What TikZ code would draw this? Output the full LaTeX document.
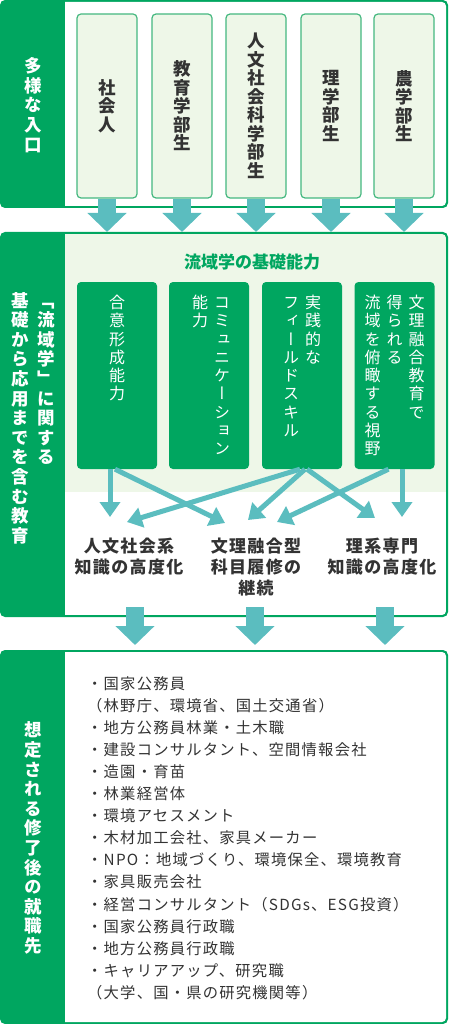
\documentclass[tikz,border=0pt]{standalone}
\usepackage{fontspec}
\setmainfont{Noto Sans CJK JP}
\newfontfamily\vjp{Noto Sans CJK JP}[RawFeature=+vert]
\newfontfamily\listjp{Noto Sans CJK JP}[LetterSpace=8]
\newfontfamily\outjp{Noto Sans CJK JP}[LetterSpace=8]
\usetikzlibrary{arrows.meta}

\definecolor{palG}{HTML}{00A660}
\definecolor{palT}{HTML}{5BBDBF}
\definecolor{palL}{HTML}{EEF7E8}
\definecolor{palB}{HTML}{45B880}
\definecolor{palK}{HTML}{333333}

% vertical stack of characters
\newcommand\vstk[1]{\vtop{\lineskiplimit=-\maxdimen\vstkaux#1\relax}}
\def\vstkaux#1{\ifx\relax#1\else\hbox to 1em{\hss#1\hss}\expandafter\vstkaux\fi}

\begin{document}
\begin{tikzpicture}[
    x=1pt, y=-1pt,
    bigarr/.style={draw=palT, line width=18pt, -{Triangle[width=38pt, length=19pt]}},
    abarr/.style={draw=palT, line width=5pt, -{Triangle[width=20pt, length=15pt]}},
    entbox/.style={draw=palB, line width=1.2pt, fill=palL, rounded corners=4pt,
        minimum width=60pt, minimum height=184pt, inner sep=0pt, text=palK,
        font=\vjp\bfseries\fontsize{17.5}{18.5}\selectfont},
    abbox/.style={fill=palG, rounded corners=4pt,
        minimum width=80pt, minimum height=187pt, inner sep=0pt},
    abtxt/.style={text=white, inner sep=0pt, anchor=north,
        font=\vjp\fontsize{16}{18.3}\selectfont},
    bandlbl/.style={text=white, inner sep=0pt,
        font=\vjp\bfseries\fontsize{17.5}{19.6}\selectfont},
    outlbl/.style={text=palK, inner sep=0pt, anchor=north, align=center,
        font=\outjp\bfseries\fontsize{17}{21}\selectfont},
]
\useasboundingbox (0,0) rectangle (448,1024);

% --- Panels ---
\fill[palG, rounded corners=5pt] (0,0) rectangle (448,208);
\fill[white, rounded corners=4pt] (55,2) rectangle (446,206);
\fill[palG] (5,0) rectangle (65,208);

\fill[palG, rounded corners=5pt] (0,232) rectangle (448,617);
\begin{scope}
    \clip[rounded corners=4pt] (55,234) rectangle (446,615);
    \fill[palL] (55,234) rectangle (446,492);
    \fill[white] (55,492) rectangle (446,615);
\end{scope}
\fill[palG] (5,232) rectangle (65,617);

\fill[palG, rounded corners=5pt] (0,650) rectangle (448,1024);
\fill[white, rounded corners=4pt] (55,652) rectangle (446,1022);
\fill[palG] (5,650) rectangle (65,1024);

% --- Entries (top) ---
\node[bandlbl] (bandA) at (33,105) {\vstk{多様な入口}};

\node[entbox] (entA) at (107,106) {\vstk{社会人}};
\node[entbox] (entB) at (182,106) {\vstk{教育学部生}};
\node[entbox] (entC) at (256,106) {\vstk{人文社会科学部生}};
\node[entbox] (entD) at (331,106) {\vstk{理学部生}};
\node[entbox] (entE) at (404,106) {\vstk{農学部生}};

\coordinate (inTop) at (0,232);
\foreach \n in {A,B,C,D,E}
    \draw[bigarr] (ent\n.south) -- (ent\n.south |- inTop);

% --- Education (middle) ---
\node[bandlbl, anchor=north] (bandB) at (33,292)
    {\vstk{基礎から応用までを含む教育}\hspace{9pt}\vstk{「流域学」に関する}};

\node[font=\bfseries\fontsize{17}{20}\selectfont, text=palG] (abTitle) at (252,262) {流域学の基礎能力};

\node[abbox] (abA) at (117,375.5) {};
\node[abbox] (abB) at (209,375.5) {};
\node[abbox] (abC) at (302,375.5) {};
\node[abbox] (abD) at (394.5,375.5) {};

\node[abtxt] (abAt) at ([yshift=-13pt]abA.north) {\vstk{合意形成能力}};
\node[abtxt] (abBt) at ([xshift=2pt, yshift=-13pt]abB.north)
    {\vstk{能力}\hspace{6pt}\vstk{コミュニケーション}};
\node[abtxt] (abCt) at ([yshift=-13pt]abC.north)
    {\vstk{フィールドスキル}\hspace{6pt}\vstk{実践的な}};
\node[abtxt] (abDt) at ([yshift=-13pt]abD.north)
    {\vstk{流域を俯瞰する視野}\hspace{6pt}\vstk{得られる}\hspace{6pt}\vstk{文理融合教育で}};

% Outcomes
\node[outlbl] (outA) at (129,538) {人文社会系\\知識の高度化};
\node[outlbl] (outB) at (256,538) {文理融合型\\科目履修の\\継続};
\node[outlbl] (outC) at (382,538) {理系専門\\知識の高度化};

\coordinate (tA1) at (110,517);
\coordinate (tA2) at (127,522);
\coordinate (tB1) at (225,523);
\coordinate (tB2) at (248,520);
\coordinate (tB3) at (277,522);
\coordinate (tC1) at (375,518);
\coordinate (tC2) at (402,517);

\draw[abarr] ([xshift=-7pt]abA.south) -- (tA1);
\draw[abarr] ([xshift=-2pt]abA.south) -- (tB1);
\draw[abarr] ([xshift=-2pt]abC.south) -- (tA2);
\draw[abarr] ([xshift=3pt]abC.south) -- (tB2);
\draw[abarr] ([xshift=5pt]abC.south) -- (tC1);
\draw[abarr] ([xshift=-6pt]abD.south) -- (tB3);
\draw[abarr] ([xshift=7.5pt]abD.south) -- (tC2);

\coordinate (exA) at (135,607);
\coordinate (exB) at (255,607);
\coordinate (exC) at (385,607);
\coordinate (outTop) at (0,645);
\foreach \n in {A,B,C}
    \draw[bigarr] (ex\n) -- (ex\n |- outTop);

% --- Careers (bottom) ---
\node[bandlbl] (bandC) at (33,838) {\vstk{想定される修了後の就職先}};

\node[anchor=north west, align=left, inner sep=0pt, text=palK,
      font=\listjp\fontsize{15.3}{22.1}\selectfont] (jobs) at (87,676)
    {・国家公務員\\
     （林野庁、環境省、国土交通省）\\
     ・地方公務員林業・土木職\\
     ・建設コンサルタント、空間情報会社\\
     ・造園・育苗\\
     ・林業経営体\\
     ・環境アセスメント\\
     ・木材加工会社、家具メーカー\\
     ・NPO：地域づくり、環境保全、環境教育\\
     ・家具販売会社\\
     ・経営コンサルタント（SDGs、ESG投資）\\
     ・国家公務員行政職\\
     ・地方公務員行政職\\
     ・キャリアアップ、研究職\\
     （大学、国・県の研究機関等）};

\end{tikzpicture}
\end{document}
